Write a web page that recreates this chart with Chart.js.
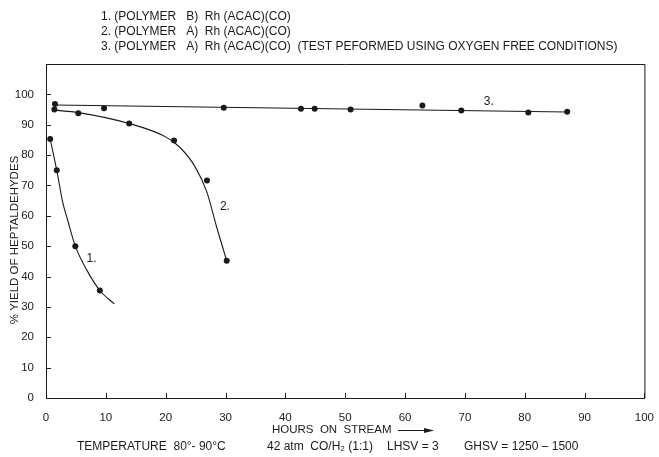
<!DOCTYPE html>
<html>
<head>
<meta charset="utf-8">
<script src="https://cdn.jsdelivr.net/npm/chart.js@4"></script>
<style>
  html, body { margin: 0; padding: 0; background: #fff; }
</style>
</head>
<body>
<canvas id="yieldChart" width="659" height="457"></canvas>
<script>
// Header lines (key to the three curves)
const keyLines = [
    "1. (POLYMER   B)  Rh (ACAC)(CO)",
    "2. (POLYMER   A)  Rh (ACAC)(CO)",
    "3. (POLYMER   A)  Rh (ACAC)(CO)  (TEST PEFORMED USING OXYGEN FREE CONDITIONS)"
];
const footerParts = ["TEMPERATURE  80°- 90°C", "42 atm  CO/H₂ (1:1)", "LHSV = 3", "GHSV = 1250 – 1500"];

// Measured points
const s1Hours = [0.7, 1.8, 4.9, 9.0];
const s1Yield = [85.3, 75, 50, 35.4];
const s2Hours = [1.4, 5.4, 13.9, 21.4, 26.9, 30.2];
const s2Yield = [95, 93.8, 90.4, 84.8, 71.6, 45.2];
const s3Hours = [1.5, 9.7, 29.7, 42.6, 44.9, 50.9, 62.9, 69.4, 80.6, 87.1];
const s3Yield = [96.8, 95.4, 95.6, 95.3, 95.3, 95, 96.3, 94.7, 94, 94.3];

// Hand-drawn curves
const c1Hours = [0.7, 1.8, 2.8, 3.6, 4.9, 6.8, 9.0, 11.4];
const c1Yield = [85.3, 75, 64.4, 58.7, 50, 42.2, 35.4, 31];
const c2Hours = [1.4, 5.4, 13.9, 20, 22.4, 24.9, 26.9, 28.5, 30.2];
const c2Yield = [94.8, 94, 90.4, 86, 82.5, 76.2, 67.7, 56.4, 45.2];
const c3Hours = [1.5, 87.1];
const c3Yield = [96.5, 94.2];

// Curve labels
const curveLabels = ["1.", "2.", "3."];
const labelHours = [7.6, 29.9, 74];
const labelYield = [46, 63, 97.5];

const xTicks = [0, 10, 20, 30, 40, 50, 60, 70, 80, 90, 100];
const yTicks = [0, 10, 20, 30, 40, 50, 60, 70, 80, 90, 100];

const toXY = (xs, ys) => xs.map((x, i) => ({ x: x, y: ys[i] }));
const ink = "#1a1a1a";
const font = "'Liberation Sans', Arial, sans-serif";

const curve = (xs, ys) => ({
    data: toXY(xs, ys),
    showLine: true,
    borderColor: ink,
    borderWidth: 1.1,
    pointRadius: 0,
    cubicInterpolationMode: "monotone",
    fill: false
});
const dots = (xs, ys) => ({
    data: toXY(xs, ys),
    showLine: false,
    pointRadius: 3,
    pointBackgroundColor: ink,
    pointBorderWidth: 0
});

const decorations = {
    id: "decorations",
    afterDraw(chart) {
        const { ctx, chartArea: a, scales: { x, y } } = chart;
        ctx.save();
        ctx.strokeStyle = ink;
        ctx.fillStyle = ink;
        ctx.lineWidth = 1;

        // frame top and right
        ctx.beginPath();
        ctx.moveTo(a.left, a.top + 0.5);
        ctx.lineTo(a.right + 0.5, a.top + 0.5);
        ctx.lineTo(a.right + 0.5, a.bottom);
        ctx.stroke();

        // inward tick marks
        ctx.beginPath();
        xTicks.forEach(v => {
            const px = Math.round(x.getPixelForValue(v)) + 0.5;
            ctx.moveTo(px, a.bottom);
            ctx.lineTo(px, a.bottom - 5);
        });
        yTicks.forEach(v => {
            const py = Math.round(y.getPixelForValue(v)) + 0.5;
            ctx.moveTo(a.left, py);
            ctx.lineTo(a.left + 5, py);
        });
        ctx.stroke();

        // curve labels
        ctx.font = "12px " + font;
        ctx.textAlign = "center";
        ctx.textBaseline = "middle";
        curveLabels.forEach((t, i) => {
            ctx.fillText(t, x.getPixelForValue(labelHours[i]), y.getPixelForValue(labelYield[i]));
        });

        // key at the top
        ctx.textAlign = "left";
        keyLines.forEach((t, i) => ctx.fillText(t, 101, 17 + i * 15));

        // y axis title
        ctx.save();
        ctx.translate(15, 240);
        ctx.rotate(-Math.PI / 2);
        ctx.textAlign = "center";
        ctx.font = "11.5px " + font;
        ctx.fillText("% YIELD OF HEPTALDEHYDES", 0, 0);
        ctx.restore();

        // x axis title with arrow
        ctx.font = "11.5px " + font;
        ctx.fillText("HOURS  ON  STREAM", 272, 430);
        ctx.beginPath();
        ctx.moveTo(398, 430.5);
        ctx.lineTo(428, 430.5);
        ctx.stroke();
        ctx.beginPath();
        ctx.moveTo(434, 430.5);
        ctx.lineTo(424, 428);
        ctx.lineTo(424, 433);
        ctx.closePath();
        ctx.fill();

        // conditions line
        ctx.font = "12px " + font;
        const footX = [77, 267, 387, 464];
        footerParts.forEach((t, i) => ctx.fillText(t, footX[i], 447));
        ctx.restore();
    }
};

new Chart(document.getElementById("yieldChart"), {
    type: "scatter",
    data: {
        datasets: [
            curve(c1Hours, c1Yield),
            curve(c2Hours, c2Yield),
            curve(c3Hours, c3Yield),
            dots(s1Hours, s1Yield),
            dots(s2Hours, s2Yield),
            dots(s3Hours, s3Yield)
        ]
    },
    options: {
        responsive: false,
        animation: false,
        layout: { padding: { top: 64, right: 13, left: 0, bottom: 0 } },
        plugins: { legend: { display: false }, tooltip: { enabled: false } },
        scales: {
            x: {
                type: "linear",
                min: 0,
                max: 100,
                afterFit: s => { s.height = 59; },
                afterBuildTicks: s => { s.ticks = xTicks.map(v => ({ value: v })); },
                grid: { display: false },
                border: { color: ink, width: 1 },
                ticks: { color: ink, font: { family: font, size: 11.5 }, padding: 5 }
            },
            y: {
                min: 0,
                max: 110,
                afterFit: s => { s.width = 46; },
                afterBuildTicks: s => { s.ticks = yTicks.map(v => ({ value: v })); },
                grid: { display: false },
                border: { color: ink, width: 1 },
                ticks: { color: ink, font: { family: font, size: 11.5 }, padding: 4 }
            }
        }
    },
    plugins: [decorations]
});
</script>
</body>
</html>
